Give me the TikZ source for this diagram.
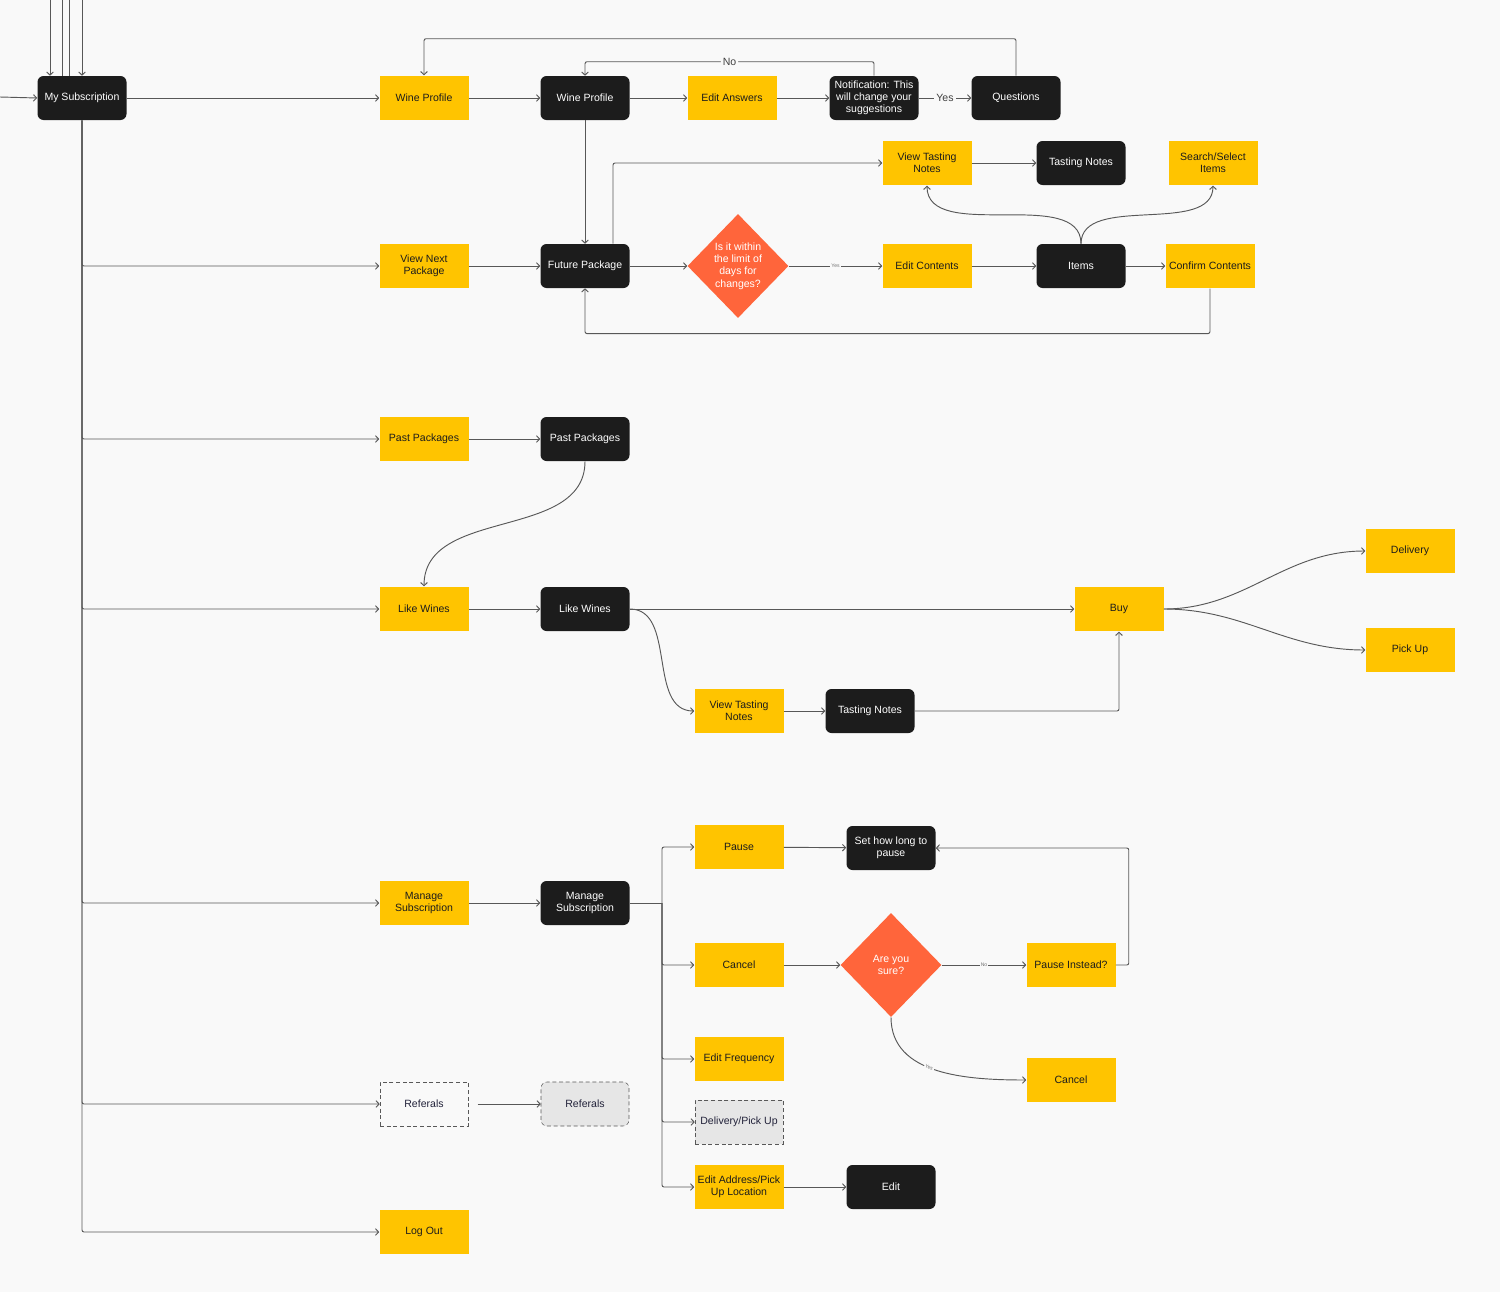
\documentclass[tikz,border=0pt]{standalone}
\usepackage{fontspec}
\setmainfont{Liberation Sans}
\usepackage{tikz}
\usetikzlibrary{arrows.meta,shapes.geometric}
\definecolor{bgc}{HTML}{F9F9F9}
\definecolor{ylw}{HTML}{FFC400}
\definecolor{blk}{HTML}{1C1C1C}
\definecolor{org}{HTML}{FF653B}
\definecolor{lgr}{HTML}{E6E6E6}
\definecolor{lnc}{HTML}{585858}
\definecolor{nvy}{HTML}{22223A}

\begin{document}
\begin{tikzpicture}[x=0.75pt,y=-0.75pt,
  font=\fontsize{7.9}{9.2}\selectfont,
  ybox/.style={fill=ylw,text=blk,minimum width=66.75pt,minimum height=33.5pt,inner sep=1pt,align=center},
  bbox/.style={fill=blk,text=white,rounded corners=4.5pt,minimum width=66.75pt,minimum height=33pt,inner sep=1pt,align=center},
  wbox/.style={draw=lnc,dash pattern=on 3pt off 2pt,fill=bgc,text=nvy,minimum width=66pt,minimum height=33pt,inner sep=1pt,align=center},
  gbox/.style={wbox,fill=lgr},
  decide/.style={diamond,fill=org,text=white,minimum width=75.75pt,minimum height=78pt,inner sep=0pt,align=center},
  link/.style={draw=lnc,line width=0.7pt},
  arr/.style={link,-{Straight Barb[length=2.4pt,width=5pt]}},
  rc/.style={rounded corners=1.5pt},
  lbl/.style={fill=bgc,text=black!75,inner sep=1.5pt},
  tinylbl/.style={fill=bgc,text=black!55,inner sep=0.8pt,font=\fontsize{3.8}{4}\selectfont}]

\path[use as bounding box,fill=bgc] (0,0) rectangle (1500,1292);

\node[bbox] (mysub) at (82,98) {My Subscription};
\node[ybox] (wpa) at (424,98) {Wine Profile};
\node[bbox] (wpb) at (585,98) {Wine Profile};
\node[ybox] (editans) at (732,98) {Edit Answers};
\node[bbox] (notif) at (874,98) {Notification: This\\will change your\\suggestions};
\node[bbox] (quest) at (1016,98) {Questions};
\node[ybox] (vtna) at (927,163) {View Tasting\\Notes};
\node[bbox] (tna) at (1081,163) {Tasting Notes};
\node[ybox] (search) at (1213,163) {Search/Select\\Items};
\node[ybox] (vnp) at (424,266) {View Next\\Package};
\node[bbox] (fp) at (585,266) {Future Package};
\node[decide] (limit) at (738,266) {Is it within\\the limit of\\days for\\changes?};
\node[ybox] (editc) at (927,266) {Edit Contents};
\node[bbox] (items) at (1081,266) {Items};
\node[ybox] (confirm) at (1210,266) {Confirm Contents};
\node[ybox] (ppa) at (424,439) {Past Packages};
\node[bbox] (ppb) at (585,439) {Past Packages};
\node[ybox] (lwa) at (424,609) {Like Wines};
\node[bbox] (lwb) at (585,609) {Like Wines};
\node[ybox] (buy) at (1119,609) {Buy};
\node[ybox] (deliv) at (1410,551) {Delivery};
\node[ybox] (pickup) at (1410,650) {Pick Up};
\node[ybox] (vtnb) at (739,711) {View Tasting\\Notes};
\node[bbox] (tnb) at (870,711) {Tasting Notes};
\node[ybox] (msa) at (424,903) {Manage\\Subscription};
\node[bbox] (msb) at (585,903) {Manage\\Subscription};
\node[ybox] (pause) at (739,847) {Pause};
\node[bbox] (howlong) at (891,848) {Set how long to\\pause};
\node[ybox] (cancela) at (739,965) {Cancel};
\node[decide] (sure) at (891,965) {Are you\\sure?};
\node[ybox] (instead) at (1071,965) {Pause Instead?};
\node[ybox] (cancelb) at (1071,1080) {Cancel};
\node[ybox] (freq) at (739,1059) {Edit Frequency};
\node[gbox] (delpick) at (739,1122) {Delivery/Pick Up};
\node[ybox] (addr) at (739,1187) {Edit Address/Pick\\Up Location};
\node[bbox] (edit) at (891,1187) {Edit};
\node[wbox] (refa) at (424,1104) {Referals};
\node[gbox,rounded corners=4.5pt] (refb) at (585,1104) {Referals};
\node[ybox] (logout) at (424,1232) {Log Out};

\coordinate (ina) at (50,0);
\coordinate (inb) at (62,0);
\coordinate (inc) at (69,0);
\coordinate (ind) at (82,0);
\coordinate (inl) at (0,97);
\coordinate (fork) at (662,903);

\draw[arr] (ina) -- (ina |- mysub.north);
\draw[link] (inb) -- (inb |- mysub.north);
\draw[link] (inc) -- (inc |- mysub.north);
\draw[arr] (ind) -- (ind |- mysub.north);
\draw[arr] (inl) -- (mysub.west);

\draw[arr] (mysub) -- (wpa);
\foreach \n in {vnp,ppa,lwa,msa,refa,logout}
  \draw[arr,rc] (mysub.south) |- (\n.west);

\draw[arr] (wpa) -- (wpb);
\draw[arr] (wpb) -- (editans);
\draw[arr] (editans) -- (notif);
\draw[arr] (notif) -- node[lbl]{Yes} (quest);
\draw[arr,rc] (notif.north) -- ++(0,-14) -| node[pos=0.25,lbl]{No} (wpb.north);
\draw[arr,rc] (quest.north) -- ++(0,-37) -| (wpa.north);
\draw[arr] (wpb) -- (fp);

\draw[arr] (vnp) -- (fp);
\draw[arr,rc] ([xshift=21pt]fp.north) |- (vtna.west);
\draw[arr] (vtna) -- (tna);
\draw[arr] (fp) -- (limit);
\draw[arr] (limit) -- node[tinylbl]{Yes} (editc);
\draw[arr] (editc) -- (items);
\draw[arr] (items) -- (confirm);
\draw[arr] (items.north) to[out=90,in=-90,looseness=0.9] (vtna.south);
\draw[arr] (items.north) to[out=90,in=-90,looseness=0.9] (search.south);
\draw[arr,rc] (confirm.south) -- ++(0,45) -| (fp.south);

\draw[arr] (ppa) -- (ppb);
\draw[arr] (ppb.south) to[out=-90,in=90] (lwa.north);
\draw[arr] (lwa) -- (lwb);
\draw[arr] (lwb) -- (buy);
\draw[arr] (lwb.east) to[out=0,in=180] (vtnb.west);
\draw[arr] (vtnb) -- (tnb);
\draw[arr,rc] (tnb.east) -| (buy.south);
\draw[arr] (buy.east) to[out=0,in=180] (deliv.west);
\draw[arr] (buy.east) to[out=0,in=180] (pickup.west);

\draw[arr] (msa) -- (msb);
\draw[link] (msb.east) -- (fork);
\foreach \n in {pause,cancela,freq,delpick,addr}
  \draw[arr,rc] (fork) |- (\n.west);
\draw[arr] (pause) -- (howlong);
\draw[arr] (cancela) -- (sure);
\draw[arr] (sure) -- node[tinylbl]{No} (instead);
\draw[arr,rc] (instead.east) -- ++(13,0) |- (howlong.east);
\draw[arr] (sure.south) to[out=-90,in=180] node[pos=0.45,sloped,tinylbl]{Yes} (cancelb.west);
\draw[arr] (addr) -- (edit);

\draw[arr,shorten <=7pt] (refa) -- (refb);
\end{tikzpicture}
\end{document}
